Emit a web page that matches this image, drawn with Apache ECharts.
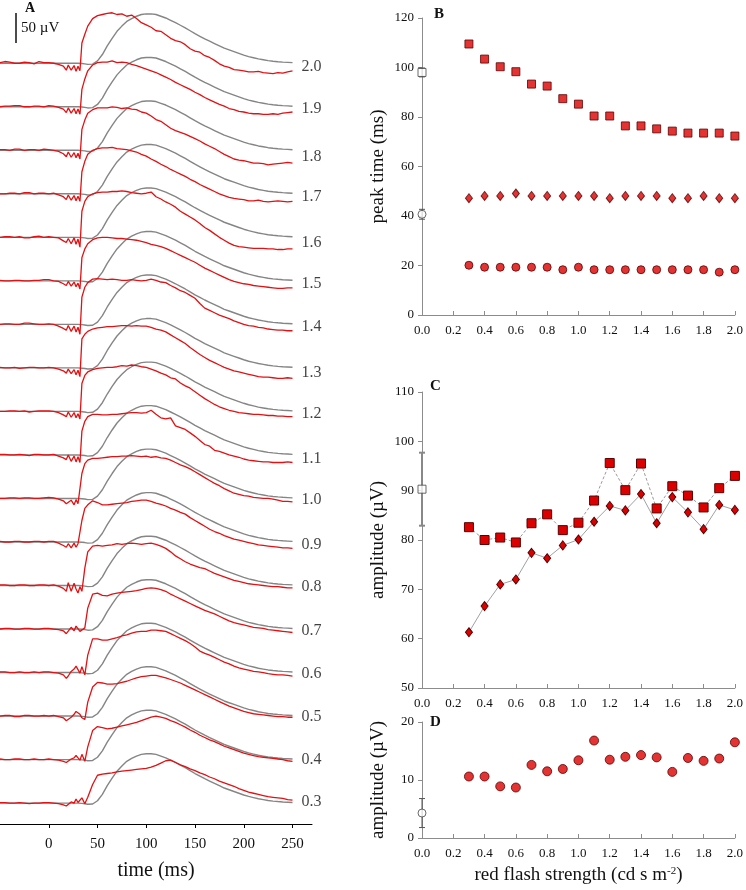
<!DOCTYPE html>
<html>
<head>
<meta charset="utf-8">
<script src="https://cdn.jsdelivr.net/npm/echarts@6/dist/echarts.min.js"></script>
<style>
  html, body { margin: 0; padding: 0; background: #fff; }
  #chart { width: 746px; height: 890px; }
</style>
</head>
<body>
<div id="chart"></div>
<script>
// ---- panel A: ERG traces (µV relative to each trace's own baseline) ----
const TIME_MS = [-50,-45,-40,-35,-30,-25,-20,-15,-10,-5,0,5,10,
    15,18,20,23,26,28,30,32,34,37,
    40,45,50,55,60,65,70,75,80,85,90,95,100,105,110,115,120,125,130,135,140,145,150,155,160,165,170,175,180,185,190,195,200,205,210,215,220,225,230,235,240,245,250];
const TIME_TICKS = [0, 50, 100, 150, 200, 250];
const LEVELS = ['0.3','0.4','0.5','0.6','0.7','0.8','0.9','1.0','1.1','1.2','1.3','1.4','1.5','1.6','1.7','1.8','1.9','2.0'];

const GRAY_TRACE = [0,0,0,0,0,0,0,0,0,0,0,0,0,
    0,0,0,0,0,0,0,0,-0.5,-1,
    -2,-1.5,4,15,30, 43,55,64,72,77, 81,84,85,85,84, 81,78,74,70,65.5, 61,56,51,46.5,42, 38,34,30,26,23, 20,17,14,11.5,9.5, 7.5,6,4.5,3.5,2.7, 2,1.5,1];

const RED_03 = [1,1,0,0,1,0,-1,0,0,1,1,0,-1,
    -3,-5,-7,2,0,7,1,0,9,-1,
    10,32,48,50,51, 52,54,55,56,57, 58,59,60,62,65, 69,73,74,70,66, 63,59,56,52,49, 45,42,38,35,32, 29,25,22,19,17, 15,13,11,10,9, 8,6,5];
const RED_04 = [1,0,0,1,1,0,0,1,0,0,1,0,-1,
    -3,-5,-6,1,3,7,3,-1,9,-3,
    22,50,57,55,53, 54,56,58,60,62, 64,67,70,73,75, 73,71,67,64,60, 56,51,47,42,38, 34,31,27,23,20, 17,14,11,9,7, 5,4,3,2,1, 0,-2,-3];
const RED_05 = [0,1,1,-1,-1,1,1,0,0,1,0,1,-1,
    -3,-8,-9,-2,3,8,10,3,-3,-6,
    24,50,58,57,55, 55,56,58,60,63, 66,68,69,70,70, 68,66,63,60,57, 53,49,45,41,37, 33,29,25,21,17, 14,11,8,6,4, 3,2,1,0,-1, -1,-2,-2];
const RED_06 = [1,1,0,0,1,0,0,1,0,1,1,0,-1,
    -4,-10,-6,2,6,11,5,-1,10,-4,
    30,58,58,56,56, 58,60,63,65,68, 70,71,71,73,73, 72,71,67,63,59, 55,50,44,37,33, 30,26,22,18,15, 11,8,6,4,2, 1,0,-2,-3,-4, -4,-5,-6];
const RED_07 = [0,1,1,0,0,1,1,0,0,1,1,0,-1,
    -3,-8,-6,3,-3,5,2,-4,-2,2,
    36,60,62,58,57, 60,62,63,64,65, 66,68,70,71,70, 68,65,60,56,52, 48,44,40,36,32, 29,26,22,18,14, 11,9,7,5,3, 2,1,-1,-2,-3, -4,-5,-6];
const RED_08 = [1,1,0,0,1,1,0,0,1,1,0,1,-1,
    -5,-10,5,-10,4,-6,-13,-2,-10,30,
    58,68,69,68,69, 70,72,71,72,73, 72,71,72,73,71, 68,64,58,51,46, 41,37,34,31,29, 25,21,18,15,12, 9,7,5,3,2, 1,0,-1,-2,-2, -3,-4,-4];
const RED_09 = [1,0,0,1,1,0,0,1,1,0,1,1,-2,
    -6,-9,-3,-10,-2,-9,-3,-6,37,58,
    64,71,68,64,64, 65,66,67,68,70, 71,72,72,70,67, 65,62,58,55,51, 48,42,37,32,27, 22,18,15,11,8, 5,3,1,-1,-3, -5,-6,-7,-8,-9, -10,-10,-11];
const RED_10 = [0,0,1,1,0,1,1,0,0,1,2,1,-1,
    -4,-9,-12,-3,-11,-2,-9,-9,43,60,
    66,69,69,70,71, 72,72,73,73,74, 73,72,73,71,72, 70,69,66,62,58, 55,51,46,41,36, 31,26,22,17,13, 9,7,5,4,2, 1,0,0,-1,-3, -5,-5,-6];
const RED_11 = [1,1,0,0,1,0,-1,1,1,0,0,1,-2,
    -5,-8,0,-11,-2,-12,-3,-13,41,58,
    66,70,70,69,69, 70,70,71,72,73, 73,72,73,77,70, 64,62,64,50,47, 44,38,32,25,18, 15,8,6,3,0, -2,-4,-7,-9,-10, -11,-12,-12,-13,-13, -13,-12,-13];
const RED_12 = [0,0,1,1,0,1,-1,0,1,1,1,0,-2,
    -6,-9,-1,-10,-2,-11,-4,-13,48,62,
    68,72,74,75,76, 76,77,79,78,80, 79,77,76,73,70, 66,63,58,56,49, 44,40,34,28,22, 17,12,8,5,2, 0,-2,-3,-4,-5, -5,-6,-7,-7,-8, -8,-9,-9];
const RED_13 = [1,0,0,1,-1,0,1,1,0,0,1,0,-2,
    -5,-9,-2,-10,-3,-12,-4,-15,50,58,
    63,67,69,70,71, 71,72,73,73,72, 73,72,72,70,67, 65,62,57,52,47, 42,35,29,23,18, 13,9,5,1,-2, -5,-7,-9,-11,-13, -15,-16,-16,-17,-18, -18,-17,-18];
const RED_14 = [0,1,1,0,0,2,2,1,0,0,1,0,-3,
    -7,-10,-2,-12,-3,-13,-5,-17,47,64,
    72,78,79,78,77, 78,77,76,76,77, 76,75,76,78,76, 73,72,67,63,58, 55,50,45,36,28, 24,20,16,13,10, 6,3,0,-2,-3, -5,-6,-8,-9,-10, -10,-11,-11];
const RED_15 = [1,0,0,1,1,0,0,1,1,2,2,0,-1,
    -5,-8,-1,-9,-2,-10,-4,-14,40,55,
    64,71,74,75,75, 74,73,73,72,71, 70,68,66,63,61, 59,56,52,48,44, 40,36,32,27,22, 18,14,10,6,2, -1,-3,-5,-6,-8, -9,-10,-11,-12,-13, -13,-12,-12];
const RED_16 = [0,1,1,0,1,-1,-1,1,2,0,1,0,-1,
    -6,-9,-2,-11,-1,-12,-3,-17,45,62,
    70,75,77,78,78, 79,79,80,79,77, 76,75,76,78,70, 66,61,57,52,45, 40,35,30,24,17, 12,6,0,-5,-10, -14,-16,-17,-18,-19, -19,-19,-20,-20,-21, -21,-20,-20];
const RED_17 = [0,0,1,1,0,2,2,0,1,1,0,1,-2,
    -5,-10,-2,-11,-3,-12,-4,-13,38,56,
    68,75,78,79,79, 80,78,77,76,74, 72,68,65,60,56, 51,47,42,38,34, 30,25,21,16,12, 8,4,0,-3,-6, -8,-9,-10,-12,-12, -11,-13,-14,-13,-12, -13,-14,-13];
const RED_18 = [1,1,0,2,2,0,1,1,0,2,1,0,-2,
    -6,-11,-3,-12,-4,-13,-5,-15,36,52,
    64,70,73,73,73, 75,74,72,73,71, 70,66,64,59,53, 50,44,38,34,31, 28,24,20,16,11, 7,3,-2,-7,-11, -15,-17,-18,-20,-22, -22,-23,-25,-24,-23, -22,-21,-22];
const RED_19 = [0,1,1,2,2,0,0,1,1,0,2,1,-1,
    -4,-10,-2,-11,-3,-12,-4,-13,30,48,
    62,72,76,77,77, 79,76,77,76,73, 71,68,65,62,59, 55,51,47,42,38, 34,30,25,21,16, 12,8,4,1,-3, -5,-8,-9,-11,-12, -12,-13,-13,-12,-13, -11,-10,-9];
const RED_20 = [1,3,2,0,0,2,1,-1,3,1,1,0,-2,
    -5,-12,-3,-12,-4,-14,-5,-13,35,50,
    64,77,82,84,86, 87,84,85,81,83, 77,70,66,62,56, 55,49,43,39,37, 32,25,21,19,13, 10,5,-1,-5,-7, -11,-12,-13,-15,-15, -14,-16,-17,-18,-16, -17,-15,-13];
const RED_TRACES = [RED_03,RED_04,RED_05,RED_06,RED_07,RED_08,RED_09,RED_10,RED_11,RED_12,RED_13,RED_14,RED_15,RED_16,RED_17,RED_18,RED_19,RED_20];

// ---- panels B-D ----
const STRENGTH = [0.3,0.4,0.5,0.6,0.7,0.8,0.9,1.0,1.1,1.2,1.3,1.4,1.5,1.6,1.7,1.8,1.9,2.0];
const B_SQUARE  = [109.5,103.4,100.3,98.3,93.3,92.5,87.4,85.2,80.4,80.4,76.4,76.4,75.2,74.3,73.5,73.5,73.5,72.3];
const B_DIAMOND = [47.2,48.1,48.1,49.1,48.1,48.1,48.1,48.1,48.1,47.2,48.1,48.1,48.1,47.2,47.2,48.1,47.2,47.2];
const B_CIRCLE  = [20.1,19.3,19.3,19.3,19.3,19.3,18.3,19.3,18.3,18.3,18.3,18.3,18.3,18.3,18.3,18.3,17.3,18.3];
const C_SQUARE  = [82.6,80.0,80.5,79.5,83.4,85.2,82.0,83.5,88.0,95.6,90.1,95.5,86.4,90.9,89.0,86.6,90.5,93.0];
const C_DIAMOND = [61.3,66.6,71.0,72.0,77.4,76.3,78.9,80.1,83.7,86.9,86.0,89.3,83.4,88.7,85.6,82.2,87.1,86.1];
const D_CIRCLE  = [10.6,10.6,8.9,8.7,12.6,11.5,11.9,13.4,16.8,13.5,14.0,14.3,13.9,11.4,13.8,13.3,13.7,16.5];
// control values at 0.0: [mean, error]
const B_REF_SQUARE = [98.0, 1.8];
const B_REF_CIRCLE = [40.7, 2.0];
const C_REF_SQUARE = [90.3, 7.4];
const D_REF_CIRCLE = [4.3, 2.5];

const STEP_UV = 75;
const FONT = 'Liberation Serif';
const RED = '#e60f12';
const MARK_RED = '#dd0000';
const MARK_EDGE = '#5a0000';
const AXIS_GRAY = '#8c8c8c';

const chart = echarts.init(document.getElementById('chart'));

function pairs(xs, ys) { return xs.map((x, i) => [x, ys[i]]); }

function errorBar(color, width) {
    return function (params, api) {
        const x = api.value(0);
        const top = api.coord([x, api.value(2)]);
        const bot = api.coord([x, api.value(1)]);
        const st = {stroke: color, lineWidth: width};
        return {type: 'group', children: [
            {type: 'line', shape: {x1: top[0], y1: top[1], x2: bot[0], y2: bot[1]}, style: st},
            {type: 'line', shape: {x1: top[0] - 3, y1: top[1], x2: top[0] + 3, y2: top[1]}, style: st},
            {type: 'line', shape: {x1: bot[0] - 3, y1: bot[1], x2: bot[0] + 3, y2: bot[1]}, style: st}
        ]};
    };
}

const strengthAxis = (grid) => ({
    gridIndex: grid, type: 'value', min: 0, max: 2, interval: 0.2,
    axisLine: {onZero: false, lineStyle: {color: AXIS_GRAY}},
    axisTick: {inside: true, length: 4, lineStyle: {color: AXIS_GRAY}},
    axisLabel: {fontFamily: FONT, fontSize: 13, color: '#111', margin: 9, formatter: v => v.toFixed(1)},
    splitLine: {show: false}
});
const valueAxis = (grid, min, max, interval, name) => ({
    gridIndex: grid, type: 'value', min: min, max: max, interval: interval,
    axisLine: {show: true, onZero: false, lineStyle: {color: AXIS_GRAY}},
    axisTick: {show: true, length: 4, lineStyle: {color: AXIS_GRAY}},
    axisLabel: {fontFamily: FONT, fontSize: 13, color: '#111', margin: 8},
    splitLine: {show: false},
    name: name, nameLocation: 'middle', nameGap: 34,
    nameTextStyle: {fontFamily: FONT, fontSize: 19, color: '#111'}
});

const series = [];
LEVELS.forEach((lv, i) => {
    const off = i * STEP_UV;
    series.push({
        type: 'line', xAxisIndex: 0, yAxisIndex: 0, silent: true, showSymbol: false,
        data: TIME_MS.map((t, j) => [t, off + GRAY_TRACE[j]]),
        lineStyle: {color: '#858585', width: 1.4}, z: 2
    });
});
LEVELS.forEach((lv, i) => {
    const off = i * STEP_UV;
    series.push({
        type: 'line', xAxisIndex: 0, yAxisIndex: 0, silent: true, showSymbol: false,
        data: TIME_MS.map((t, j) => [t, off + RED_TRACES[i][j]]),
        lineStyle: {color: RED, width: 1.3}, z: 3
    });
});
// trace labels at the right end
series.push({
    type: 'scatter', xAxisIndex: 0, yAxisIndex: 0, silent: true, symbolSize: 0,
    data: LEVELS.map((lv, i) => {
        const last = TIME_MS.length - 1;
        return {value: [250, i * STEP_UV + (RED_TRACES[i][last] + GRAY_TRACE[last]) / 2], name: lv};
    }),
    label: {show: true, position: 'right', distance: 9, formatter: p => p.name,
        fontFamily: FONT, fontSize: 16, color: '#111'}
});

const markStyle = {color: MARK_RED, borderColor: MARK_EDGE, borderWidth: 1};
const openStyle = {color: '#fff', borderColor: '#444', borderWidth: 1};

// panel B
series.push(
    {type: 'scatter', xAxisIndex: 1, yAxisIndex: 1, symbol: 'rect', symbolSize: 8, itemStyle: markStyle, data: pairs(STRENGTH, B_SQUARE)},
    {type: 'scatter', xAxisIndex: 1, yAxisIndex: 1, symbol: 'diamond', symbolSize: [7, 9], itemStyle: markStyle, data: pairs(STRENGTH, B_DIAMOND)},
    {type: 'scatter', xAxisIndex: 1, yAxisIndex: 1, symbol: 'circle', symbolSize: 8, itemStyle: markStyle, data: pairs(STRENGTH, B_CIRCLE)},
    {type: 'custom', xAxisIndex: 1, yAxisIndex: 1, renderItem: errorBar('#555', 1), z: 3,
        data: [[0, B_REF_SQUARE[0] - B_REF_SQUARE[1], B_REF_SQUARE[0] + B_REF_SQUARE[1]],
               [0, B_REF_CIRCLE[0] - B_REF_CIRCLE[1], B_REF_CIRCLE[0] + B_REF_CIRCLE[1]]]},
    {type: 'scatter', xAxisIndex: 1, yAxisIndex: 1, symbol: 'rect', symbolSize: 8, clip: false, z: 4,
        itemStyle: openStyle, data: [[0, B_REF_SQUARE[0]]]},
    {type: 'scatter', xAxisIndex: 1, yAxisIndex: 1, symbol: 'circle', symbolSize: 8, clip: false, z: 4,
        itemStyle: openStyle, data: [[0, B_REF_CIRCLE[0]]]}
);

// panel C
series.push(
    {type: 'line', xAxisIndex: 2, yAxisIndex: 2, symbol: 'rect', symbolSize: 9, itemStyle: markStyle,
        lineStyle: {color: '#9a9a9a', width: 1, type: [3, 2]}, data: pairs(STRENGTH, C_SQUARE), z: 3},
    {type: 'line', xAxisIndex: 2, yAxisIndex: 2, symbol: 'diamond', symbolSize: [7, 9], itemStyle: markStyle,
        lineStyle: {color: '#a0a0a0', width: 1}, data: pairs(STRENGTH, C_DIAMOND), z: 3},
    {type: 'custom', xAxisIndex: 2, yAxisIndex: 2, renderItem: errorBar('#888', 2), z: 3,
        data: [[0, C_REF_SQUARE[0] - C_REF_SQUARE[1], C_REF_SQUARE[0] + C_REF_SQUARE[1]]]},
    {type: 'scatter', xAxisIndex: 2, yAxisIndex: 2, symbol: 'rect', symbolSize: 8, clip: false, z: 4,
        itemStyle: openStyle, data: [[0, C_REF_SQUARE[0]]]}
);

// panel D
series.push(
    {type: 'scatter', xAxisIndex: 3, yAxisIndex: 3, symbol: 'circle', symbolSize: 9, itemStyle: markStyle, data: pairs(STRENGTH, D_CIRCLE)},
    {type: 'custom', xAxisIndex: 3, yAxisIndex: 3, renderItem: errorBar('#555', 1), z: 3,
        data: [[0, D_REF_CIRCLE[0] - D_REF_CIRCLE[1], D_REF_CIRCLE[0] + D_REF_CIRCLE[1]]]},
    {type: 'scatter', xAxisIndex: 3, yAxisIndex: 3, symbol: 'circle', symbolSize: 8, clip: false, z: 4,
        itemStyle: openStyle, data: [[0, D_REF_CIRCLE[0]]]}
);

const dAxisX = strengthAxis(3);
dAxisX.name = 'red flash strength (cd s m{sup|-2})';
dAxisX.nameLocation = 'middle';
dAxisX.nameGap = 28;
dAxisX.nameTextStyle = {fontFamily: FONT, fontSize: 19, color: '#111',
    rich: {sup: {fontFamily: FONT, fontSize: 11, color: '#111', verticalAlign: 'top'}}};

const option = {
    animation: false,
    grid: [
        {left: 0, top: 0, width: 312, height: 824},
        {left: 422, top: 18, width: 315, height: 297},
        {left: 422, top: 392, width: 315, height: 296},
        {left: 422, top: 722, width: 315, height: 116}
    ],
    xAxis: [
        {gridIndex: 0, type: 'value', min: -50, max: 270, interval: 50,
            axisLine: {onZero: false, lineStyle: {color: '#000', width: 1}},
            axisTick: {customValues: TIME_TICKS, length: 4, lineStyle: {color: '#000'}},
            axisLabel: {customValues: TIME_TICKS, fontFamily: FONT, fontSize: 15, color: '#111', margin: 13},
            splitLine: {show: false},
            name: 'time (ms)', nameLocation: 'middle', nameGap: 37,
            nameTextStyle: {fontFamily: FONT, fontSize: 20, color: '#111'}},
        strengthAxis(1),
        strengthAxis(2),
        dAxisX
    ],
    yAxis: [
        {gridIndex: 0, type: 'value', min: -36, max: 1384, show: false},
        valueAxis(1, 0, 120, 20, 'peak time (ms)'),
        valueAxis(2, 50, 110, 10, 'amplitude (\u00b5V)'),
        valueAxis(3, 0, 20, 10, 'amplitude (\u00b5V)')
    ],
    series: series,
    graphic: [
        {type: 'text', left: 25, top: 1, style: {text: 'A', font: 'bold 14px "Liberation Serif"', fill: '#111'}},
        {type: 'line', shape: {x1: 16, y1: 13, x2: 16, y2: 43}, style: {stroke: '#111', lineWidth: 1.5}},
        {type: 'text', left: 21, top: 21, style: {text: '50 \u00b5V', font: '15px "Liberation Serif"', fill: '#111'}},
        {type: 'text', left: 434, top: 7, style: {text: 'B', font: 'bold 15px "Liberation Serif"', fill: '#111'}},
        {type: 'text', left: 430, top: 379, style: {text: 'C', font: 'bold 15px "Liberation Serif"', fill: '#111'}},
        {type: 'text', left: 430, top: 715, style: {text: 'D', font: 'bold 15px "Liberation Serif"', fill: '#111'}}
    ]
};
chart.setOption(option);
</script>
</body>
</html>
